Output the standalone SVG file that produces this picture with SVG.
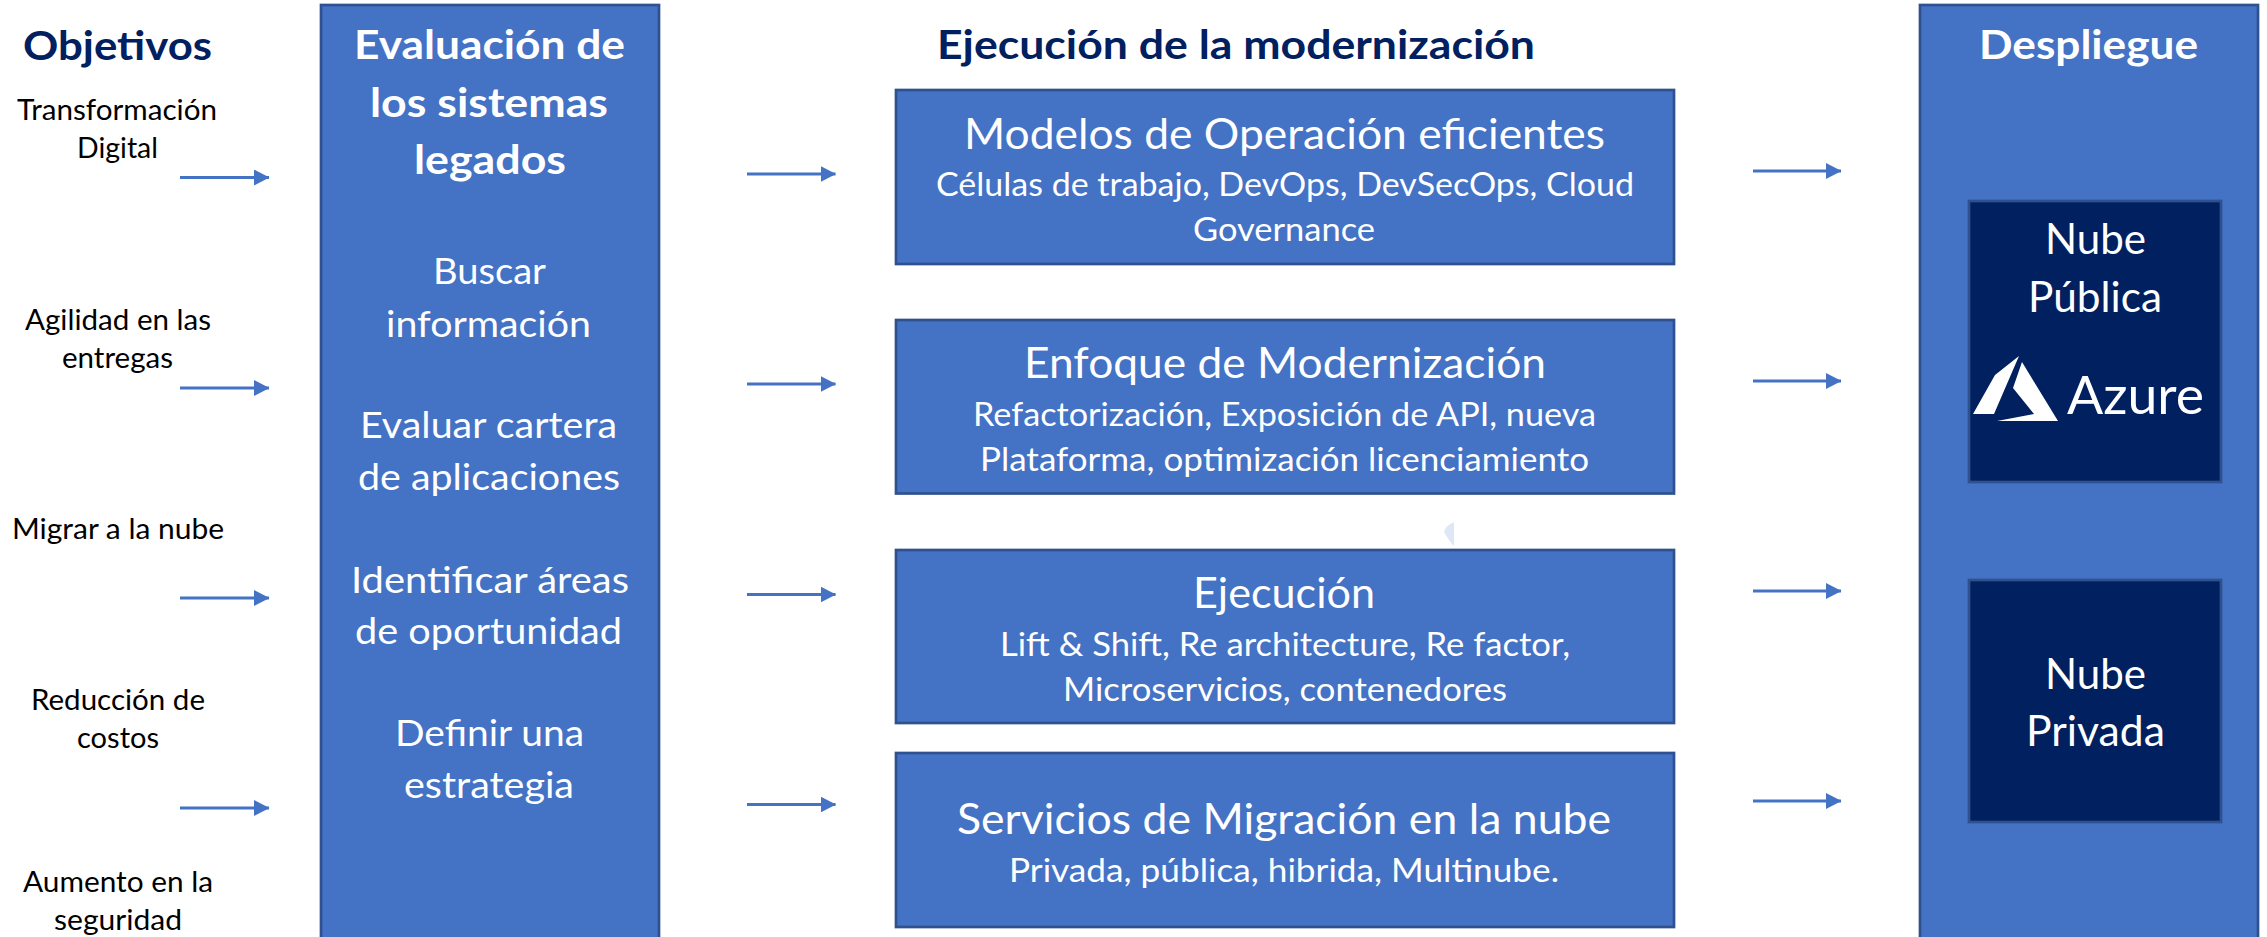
<svg xmlns="http://www.w3.org/2000/svg" width="2267" height="937" viewBox="0 0 2267 937">
<style>
text{font-family:Lato,"Open Sans","Liberation Sans",sans-serif;white-space:pre}
.box{fill:#4472C4;stroke:#2F528F;stroke-width:2.7}
.dark{fill:#002060;stroke:#2F528F;stroke-width:2.7}
.blk{fill:#000;font-size:29px}
.navy{fill:#002060;font-weight:700;font-size:40px}
.hd{fill:#fff;font-weight:700;font-size:40px}
.lg{fill:#fff;font-size:36px}
.big{fill:#fff;font-size:43px}
.sub{fill:#fff;font-size:32px}
.cn{stroke:#4472C4;stroke-width:2.8;fill:none;marker-end:url(#ah)}
</style>
<defs><marker id="ah" markerUnits="userSpaceOnUse" markerWidth="16" markerHeight="16" refX="15" refY="8" orient="auto"><path d="M0 0L15.500 8L0 16Z" fill="#4472C4"/></marker></defs>
<rect width="2267" height="937" fill="#fff"/>
<g id="objetivos">
<text class="navy" x="23" y="60" textLength="189" lengthAdjust="spacingAndGlyphs">Objetivos</text>
<text class="blk" x="17" y="120" textLength="200" lengthAdjust="spacingAndGlyphs">Transformación</text>
<text class="blk" x="77" y="158" textLength="81" lengthAdjust="spacingAndGlyphs">Digital</text>
<text class="blk" x="25" y="330" textLength="186" lengthAdjust="spacingAndGlyphs">Agilidad en las</text>
<text class="blk" x="62" y="368" textLength="111" lengthAdjust="spacingAndGlyphs">entregas</text>
<text class="blk" x="12" y="539" textLength="212" lengthAdjust="spacingAndGlyphs">Migrar a la nube</text>
<text class="blk" x="31" y="710" textLength="174" lengthAdjust="spacingAndGlyphs">Reducción de</text>
<text class="blk" x="77" y="748" textLength="82" lengthAdjust="spacingAndGlyphs">costos</text>
<text class="blk" x="23" y="892" textLength="190" lengthAdjust="spacingAndGlyphs">Aumento en la</text>
<text class="blk" x="54" y="930" textLength="128" lengthAdjust="spacingAndGlyphs">seguridad</text>
</g>
<g id="evaluacion">
<rect class="box" x="321" y="5" width="338" height="945"/>
<text class="hd" x="354" y="59" textLength="271" lengthAdjust="spacingAndGlyphs">Evaluación de</text>
<text class="hd" x="370" y="117" textLength="238" lengthAdjust="spacingAndGlyphs">los sistemas</text>
<text class="hd" x="414" y="174" textLength="152" lengthAdjust="spacingAndGlyphs">legados</text>
<text class="lg" x="433" y="284" textLength="113" lengthAdjust="spacingAndGlyphs">Buscar</text>
<text class="lg" x="386" y="337" textLength="205" lengthAdjust="spacingAndGlyphs">información</text>
<text class="lg" x="360" y="438" textLength="257" lengthAdjust="spacingAndGlyphs">Evaluar cartera</text>
<text class="lg" x="358" y="490" textLength="262" lengthAdjust="spacingAndGlyphs">de aplicaciones</text>
<text class="lg" x="351" y="593" textLength="278" lengthAdjust="spacingAndGlyphs">Identificar áreas</text>
<text class="lg" x="355" y="644" textLength="267" lengthAdjust="spacingAndGlyphs">de oportunidad</text>
<text class="lg" x="395" y="746" textLength="189" lengthAdjust="spacingAndGlyphs">Definir una</text>
<text class="lg" x="404" y="798" textLength="170" lengthAdjust="spacingAndGlyphs">estrategia</text>
</g>
<g id="ejecucion-titulo">
<text class="navy" x="937" y="59" textLength="598" lengthAdjust="spacingAndGlyphs">Ejecución de la modernización</text>
</g>
<g id="modelos">
<rect class="box" x="896" y="90" width="778" height="174"/>
<text class="big" x="964" y="149" textLength="641" lengthAdjust="spacingAndGlyphs">Modelos de Operación eficientes</text>
<text class="sub" x="936" y="196" textLength="698" lengthAdjust="spacingAndGlyphs">Células de trabajo, DevOps, DevSecOps, Cloud</text>
<text class="sub" x="1193" y="241" textLength="182" lengthAdjust="spacingAndGlyphs">Governance</text>
</g>
<g id="enfoque">
<rect class="box" x="896" y="320" width="778" height="173.500"/>
<text class="big" x="1024" y="378" textLength="522" lengthAdjust="spacingAndGlyphs">Enfoque de Modernización</text>
<text class="sub" x="973" y="426" textLength="623" lengthAdjust="spacingAndGlyphs">Refactorización, Exposición de API, nueva</text>
<text class="sub" x="980" y="471" textLength="609" lengthAdjust="spacingAndGlyphs">Plataforma, optimización licenciamiento</text>
</g>
<g id="ejecucion">
<rect class="box" x="896" y="550" width="778" height="173"/>
<text class="big" x="1193" y="608" textLength="182" lengthAdjust="spacingAndGlyphs">Ejecución</text>
<text class="sub" x="1000" y="656" textLength="570" lengthAdjust="spacingAndGlyphs">Lift &amp; Shift, Re architecture, Re factor,</text>
<text class="sub" x="1063" y="701" textLength="444" lengthAdjust="spacingAndGlyphs">Microservicios, contenedores</text>
</g>
<g id="servicios">
<rect class="box" x="896" y="753" width="778" height="174"/>
<text class="big" x="957" y="834" textLength="654" lengthAdjust="spacingAndGlyphs">Servicios de Migración en la nube</text>
<text class="sub" x="1009" y="882" textLength="550" lengthAdjust="spacingAndGlyphs">Privada, pública, hibrida, Multinube.</text>
</g>
<path d="M1454 522Q1445 526 1444 532Q1449 541 1454 546Z" fill="#dfe7f7"/>
<g id="despliegue">
<rect class="box" x="1920" y="5" width="338" height="945"/>
<text class="hd" x="1979" y="59" textLength="219" lengthAdjust="spacingAndGlyphs">Despliegue</text>
</g>
<g id="nube-publica">
<rect class="dark" x="1969" y="201" width="252" height="281"/>
<text class="big" x="2045" y="254" textLength="101" lengthAdjust="spacingAndGlyphs">Nube</text>
<text class="big" x="2028" y="312" textLength="134" lengthAdjust="spacingAndGlyphs">Pública</text>
<path d="M1973 414L1995 375L2019 356L1994 414ZM2022 362L2058 421L1997 421L2034 414L2013 388Z" fill="#fff"/>
<text x="2067" y="414" font-size="53" fill="#fff" textLength="137" lengthAdjust="spacingAndGlyphs">Azure</text>
</g>
<g id="nube-privada">
<rect class="dark" x="1969" y="580" width="252" height="242"/>
<text class="big" x="2045" y="689" textLength="101" lengthAdjust="spacingAndGlyphs">Nube</text>
<text class="big" x="2026" y="746" textLength="139" lengthAdjust="spacingAndGlyphs">Privada</text>
</g>
<g id="connectors">
<path class="cn" d="M180 177.500H269"/><path class="cn" d="M180 388H269"/><path class="cn" d="M180 598H269"/><path class="cn" d="M180 808H269"/>
<path class="cn" d="M747 174H835.500"/><path class="cn" d="M747 384H835.500"/><path class="cn" d="M747 594.500H835.500"/><path class="cn" d="M747 804.500H835.500"/>
<path class="cn" d="M1753 171H1841"/><path class="cn" d="M1753 381H1841"/><path class="cn" d="M1753 591H1841"/><path class="cn" d="M1753 801H1841"/>
</g>
</svg>
